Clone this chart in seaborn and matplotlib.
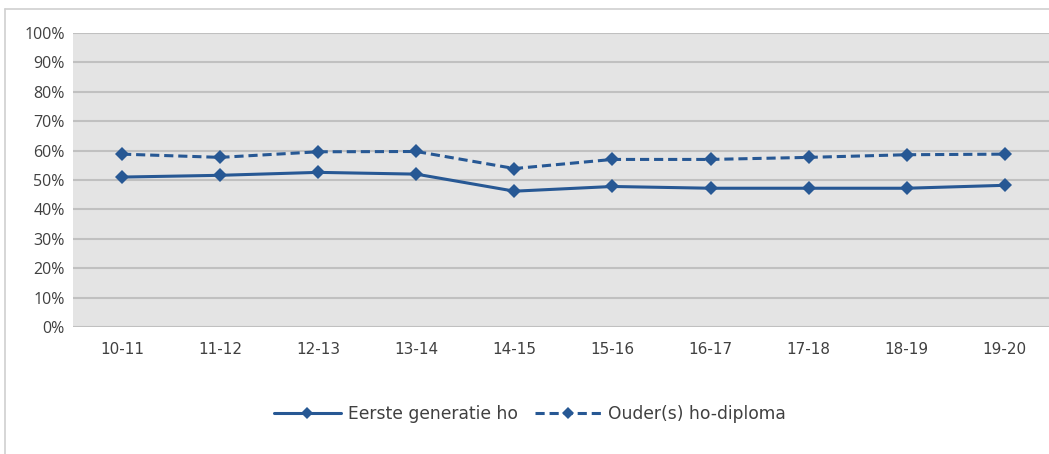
import numpy as np
import pandas as pd
import matplotlib.pyplot as plt
import seaborn as sns
from matplotlib.lines import Line2D

years = ["10-11", "11-12", "12-13", "13-14", "14-15", "15-16", "16-17", "17-18", "18-19", "19-20"]
eerste_gen = [51.0, 51.6, 52.6, 52.0, 46.2, 47.8, 47.2, 47.2, 47.2, 48.2]
ouders_ho = [58.8, 57.7, 59.6, 59.7, 53.9, 57.0, 57.0, 57.7, 58.6, 58.8]

df = pd.DataFrame({
    "Jaar": years * 2,
    "Waarde": eerste_gen + ouders_ho,
    "Groep": ["Eerste generatie ho"] * len(years) + ["Ouder(s) ho-diploma"] * len(years),
})

sns.set_style("white")
plt.rcParams["font.family"] = ["Open Sans", "DejaVu Sans"]

blue = "#275894"
fig = plt.figure(figsize=(10.49, 4.54), dpi=100)
ax = fig.add_axes([0.0696, 0.2797, 0.935, 0.6476])
ax.set_facecolor("#e4e4e4")

sns.lineplot(data=df, x="Jaar", y="Waarde", hue="Groep", style="Groep",
             palette=[blue, blue], dashes=[(1, 0), (3, 1.6)], markers=["D", "D"],
             markersize=7.5, markeredgewidth=0, linewidth=2.2, ax=ax, legend=False)

ax.set_ylim(0, 100)
ax.set_xlim(-0.5, 9.5)
ax.set_yticks(np.arange(0, 101, 10))
ax.set_yticklabels([f"{v}%" for v in range(0, 101, 10)])
ax.yaxis.grid(True, color="#c0c0c0", linewidth=1.5)
ax.set_axisbelow(True)
for s in ax.spines.values():
    s.set_visible(False)
ax.tick_params(axis="both", length=0, labelsize=11.5, colors="#404040")
ax.tick_params(axis="x", pad=11)
ax.tick_params(axis="y", pad=6)
for lbl in ax.get_xticklabels():
    lbl.set_family("DejaVu Sans")
    lbl.set_fontsize(11)
ax.set_xlabel("")
ax.set_ylabel("")

# chart border (top and left)
fig.add_artist(Line2D([5 / 1049, 5 / 1049], [0, 1 - 9 / 454], color="#d0d0d0", linewidth=1.2))
fig.add_artist(Line2D([5 / 1049, 1], [1 - 9 / 454, 1 - 9 / 454], color="#d0d0d0", linewidth=1.2))

handles = [
    Line2D([], [], color=blue, linewidth=2.2, marker="D", markersize=6, markeredgewidth=0),
    Line2D([], [], color=blue, linewidth=2.2, linestyle=(0, (3, 1.6)), marker="D", markersize=6, markeredgewidth=0),
]
fig.legend(handles, ["Eerste generatie ho", "Ouder(s) ho-diploma"], loc="center",
           bbox_to_anchor=(530 / 1049, 1 - 414 / 454), ncol=2, frameon=False,
           handlelength=3.9, columnspacing=1.0, handletextpad=0.4,
           prop={"family": "DejaVu Sans", "size": 12.3}, labelcolor="#404040")

plt.savefig("out.png", dpi=100)
